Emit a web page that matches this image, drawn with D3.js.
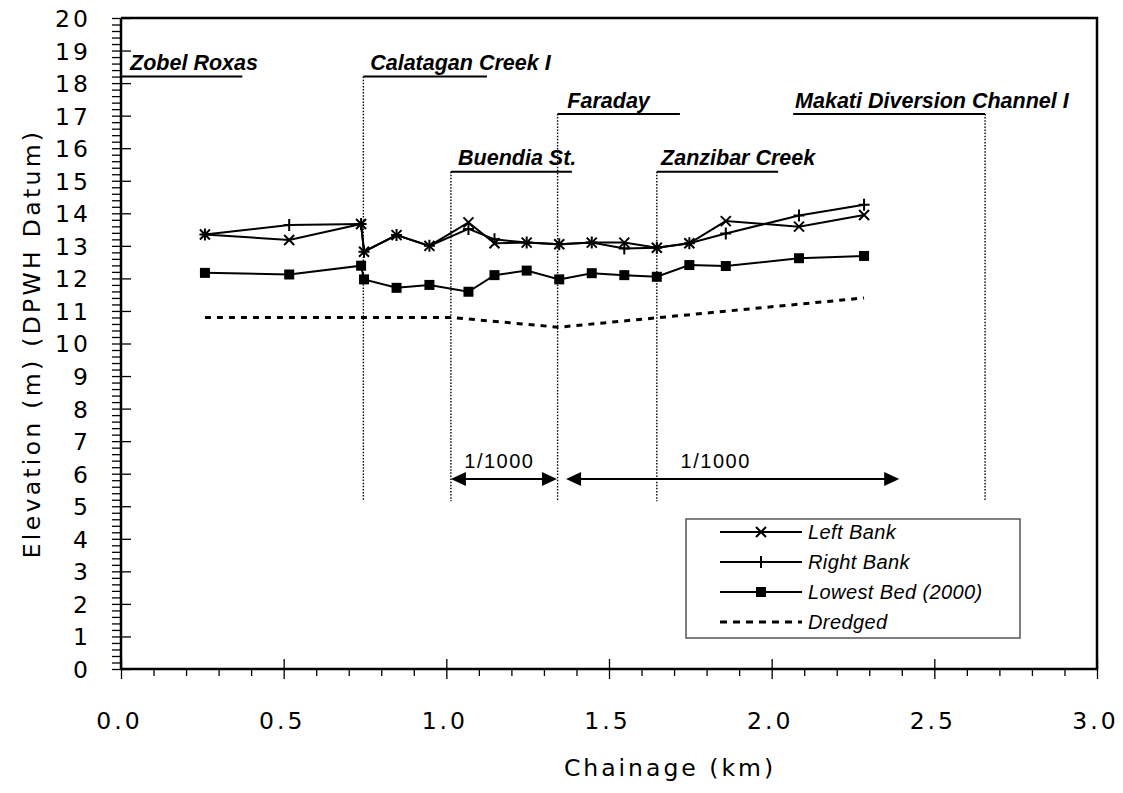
<!DOCTYPE html>
<html><head><meta charset="utf-8">
<script src="https://cdn.jsdelivr.net/npm/d3@7"></script>
<style>body{margin:0;background:#fff} svg{display:block}</style>
</head><body>
<svg id="c" width="1123" height="793"></svg>
<script>
// ---- data ----
const chainage  = [0.258, 0.517, 0.738, 0.747, 0.847, 0.948, 1.068, 1.148, 1.247, 1.347, 1.447, 1.547, 1.647, 1.747, 1.859, 2.084, 2.284];
const leftBank  = [13.35, 13.18, 13.67, 12.82, 13.33, 13.00, 13.72, 13.08, 13.10, 13.05, 13.10, 13.10, 12.94, 13.08, 13.76, 13.59, 13.95];
const rightBank = [13.35, 13.64, 13.67, 12.82, 13.33, 13.00, 13.52, 13.20, 13.10, 13.05, 13.10, 12.92, 12.94, 13.08, 13.38, 13.93, 14.26];
const lowestBed = [12.17, 12.12, 12.39, 11.97, 11.71, 11.80, 11.59, 12.10, 12.24, 11.97, 12.16, 12.10, 12.05, 12.41, 12.38, 12.62, 12.69];
const dredgedKm   = [0.258, 1.015, 1.345, 2.284];
const dredgedElev = [10.8, 10.8, 10.5, 11.4];

const xMajorTicks = [0, 0.5, 1.0, 1.5, 2.0, 2.5, 3.0];
const yMajorTicks = d3.range(0, 21, 1);

const locNames       = ["Zobel Roxas", "Calatagan Creek I", "Buendia St.", "Faraday", "Zanzibar Creek", "Makati Diversion Channel I"];
const locKm          = [0, 0.745, 1.014, 1.342, 1.647, 2.656];
const locLevel       = [18.2, 18.2, 15.28, 17.05, 15.28, 17.05];
const locUnderStart  = [0, 0.745, 1.014, 1.342, 1.647, 2.066];
const locUnderEnd    = [0.373, 1.125, 1.386, 1.718, 2.02, 2.656];
const locTextKm      = [0.028, 0.766, 1.036, 1.372, 1.66, 2.072];
const locBottom      = 5.15;

const slopeLabels = ["1/1000", "1/1000"];
const slopeFrom   = [1.014, 1.368];
const slopeTo     = [1.340, 2.392];
const slopeMid    = [1.163, 1.828];
const slopeElev   = 5.84;

const legendNames = ["Left Bank", "Right Bank", "Lowest Bed (2000)", "Dredged"];

// ---- chart ----
const svg = d3.select("#c");
const L = 121, R = 1097, T = 18, B = 669;
const x = d3.scaleLinear().domain([0, 3]).range([L, R]);
const y = d3.scaleLinear().domain([0, 20]).range([B, T]);
const AX = "DejaVu Sans", AR = "Liberation Sans";

// frame top/right
svg.append("path").attr("d", `M${L},${T}H${R}V${B}`).attr("fill", "none").attr("stroke", "#000").attr("stroke-width", 2.5);

// y axis minor ticks
const yMinor = d3.range(0, 20.001, 0.2).filter(v => Math.abs(v - Math.round(v)) > 0.01);
svg.append("g").attr("transform", `translate(${L},0)`)
  .call(d3.axisLeft(y).tickValues(yMinor).tickSize(9).tickFormat(""))
  .call(g => g.select(".domain").remove())
  .selectAll("line").attr("stroke", "#000").attr("stroke-width", 1.3);
// y axis major
const ya = svg.append("g").attr("transform", `translate(${L},0)`)
  .call(d3.axisLeft(y).tickValues(yMajorTicks).tickSize(9).tickPadding(0).tickFormat(d3.format("d")));
ya.select(".domain").attr("d", `M0,${B}V${T}`).attr("stroke", "#000").attr("stroke-width", 2.5);
ya.selectAll(".tick line").attr("x1", 10).attr("x2", -9).attr("stroke", "#000").attr("stroke-width", 1.3);
ya.selectAll(".tick text").attr("x", -30).attr("dy", "0.36em")
  .style("font-family", AX).style("font-size", "23.5px").style("letter-spacing", "3px").attr("fill", "#000");

// x axis minor
const xMinor = d3.range(0, 3.0001, 0.1).filter(v => Math.abs(v * 2 - Math.round(v * 2)) > 0.01);
svg.append("g").attr("transform", `translate(0,${B})`)
  .call(d3.axisBottom(x).tickValues(xMinor).tickSize(7).tickFormat(""))
  .call(g => g.select(".domain").remove())
  .selectAll("line").attr("stroke", "#000").attr("stroke-width", 1.3);
const xa = svg.append("g").attr("transform", `translate(0,${B})`)
  .call(d3.axisBottom(x).tickValues(xMajorTicks).tickSize(10).tickFormat(d3.format(".1f")));
xa.select(".domain").attr("d", `M${L},0H${R}`).attr("stroke", "#000").attr("stroke-width", 2.5);
xa.selectAll(".tick line").attr("y1", -10).attr("y2", 10).attr("stroke", "#000").attr("stroke-width", 1.3);
xa.selectAll(".tick text").attr("y", 60).attr("dy", 0).attr("x", -2)
  .style("font-family", AX).style("font-size", "23.5px").style("letter-spacing", "3px").attr("fill", "#000");

// axis titles
svg.append("text").attr("transform", `translate(40,${(T + B) / 2}) rotate(-90)`)
  .attr("text-anchor", "middle").style("font-family", AX).style("font-size", "23.5px").style("letter-spacing", "3.3px")
  .text("Elevation (m) (DPWH Datum)");
svg.append("text").attr("x", 670).attr("y", 776).attr("text-anchor", "middle")
  .style("font-family", AX).style("font-size", "23.5px").style("letter-spacing", "3px")
  .text("Chainage (km)");

// location markers
locNames.forEach((n, i) => {
  if (locKm[i] > 0) {
    svg.append("line").attr("x1", x(locKm[i])).attr("x2", x(locKm[i]))
      .attr("y1", y(locLevel[i])).attr("y2", y(locBottom))
      .attr("stroke", "#000").attr("stroke-width", 1.4).attr("stroke-dasharray", "1.5,1.6");
  }
  svg.append("line").attr("x1", x(locUnderStart[i])).attr("x2", x(locUnderEnd[i]))
    .attr("y1", y(locLevel[i])).attr("y2", y(locLevel[i])).attr("stroke", "#000").attr("stroke-width", 2);
  svg.append("text").attr("x", x(locTextKm[i])).attr("y", y(locLevel[i]) - 6.5)
    .style("font-family", AR).style("font-size", "21.5px").style("font-weight", "bold").style("font-style", "italic")
    .text(n);
});

// slope arrows
function arrowHead(px, py, dir) {
  const l = 15, h = 7;
  return `M${px},${py}L${px - dir * l},${py - h}L${px - dir * l},${py + h}Z`;
}
slopeLabels.forEach((s, i) => {
  const x1 = x(slopeFrom[i]), x2 = x(slopeTo[i]), yy = y(slopeElev);
  svg.append("line").attr("x1", x1 + 5).attr("x2", x2 - 5).attr("y1", yy).attr("y2", yy).attr("stroke", "#000").attr("stroke-width", 2);
  svg.append("path").attr("d", arrowHead(x1, yy, -1)).attr("fill", "#000");
  svg.append("path").attr("d", arrowHead(x2, yy, 1)).attr("fill", "#000");
  svg.append("text").attr("x", x(slopeMid[i])).attr("y", yy - 11).attr("text-anchor", "middle")
    .style("font-family", AR).style("font-size", "20px").style("letter-spacing", "1.5px").text(s);
});

// series
const line = d3.line();
const pts = vals => chainage.map((c, i) => [x(c), y(vals[i])]);
const markX = "M-5,-5L5,5M-5,5L5,-5";
const markPlus = "M-5.5,0H5.5M0,-6V6";

svg.append("path").attr("d", line(dredgedKm.map((c, i) => [x(c), y(dredgedElev[i])])))
  .attr("fill", "none").attr("stroke", "#000").attr("stroke-width", 3).attr("stroke-dasharray", "6,6");

[[leftBank, markX], [rightBank, markPlus]].forEach(([vals, m]) => {
  svg.append("path").attr("d", line(pts(vals))).attr("fill", "none").attr("stroke", "#000").attr("stroke-width", 2);
  svg.append("g").selectAll("path").data(pts(vals)).join("path")
    .attr("transform", d => `translate(${d[0]},${d[1]})`).attr("d", m)
    .attr("stroke", "#000").attr("stroke-width", 2).attr("fill", "none");
});
svg.append("path").attr("d", line(pts(lowestBed))).attr("fill", "none").attr("stroke", "#000").attr("stroke-width", 2);
svg.append("g").selectAll("rect").data(pts(lowestBed)).join("rect")
  .attr("x", d => d[0] - 5).attr("y", d => d[1] - 5).attr("width", 10).attr("height", 10).attr("fill", "#000");

// legend
const lg = svg.append("g");
lg.append("rect").attr("x", 686).attr("y", 519).attr("width", 334).attr("height", 119)
  .attr("fill", "#fff").attr("stroke", "#555").attr("stroke-width", 1.5);
legendNames.forEach((n, i) => {
  const cy = 532 + i * 30;
  const ln = lg.append("line").attr("x1", 720).attr("x2", 802).attr("y1", cy).attr("y2", cy).attr("stroke", "#000");
  if (i === 3) ln.attr("stroke-width", 3).attr("stroke-dasharray", "7,6");
  else ln.attr("stroke-width", 2);
  if (i === 0) lg.append("path").attr("transform", `translate(761,${cy})`).attr("d", markX).attr("stroke", "#000").attr("stroke-width", 2);
  if (i === 1) lg.append("path").attr("transform", `translate(761,${cy})`).attr("d", markPlus).attr("stroke", "#000").attr("stroke-width", 2);
  if (i === 2) lg.append("rect").attr("x", 756).attr("y", cy - 5).attr("width", 10).attr("height", 10).attr("fill", "#000");
  lg.append("text").attr("x", 808).attr("y", cy + 7)
    .style("font-family", AR).style("font-size", "20px").style("font-style", "italic").style("letter-spacing", "0.4px").text(n);
});
</script>
</body></html>
